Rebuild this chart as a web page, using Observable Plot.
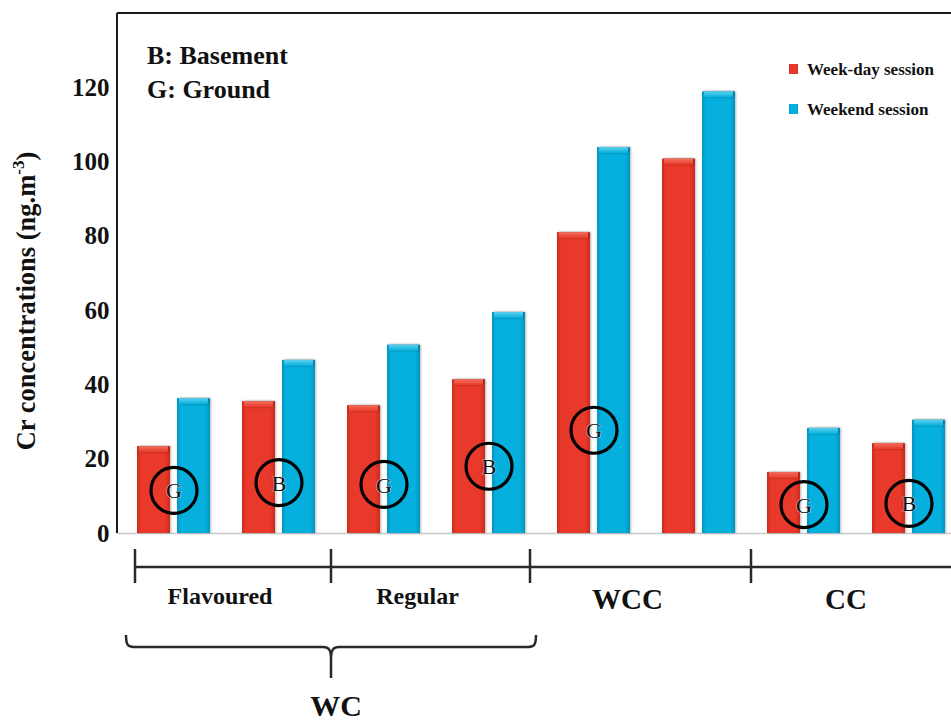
<!DOCTYPE html>
<html>
<head>
<meta charset="utf-8">
<script src="https://cdn.jsdelivr.net/npm/d3@7"></script>
<script src="https://cdn.jsdelivr.net/npm/@observablehq/plot@0.6"></script>
<style>
  html, body { margin: 0; padding: 0; background: #fff; }
  #chart svg { display: block; }
</style>
</head>
<body>
<div id="chart"></div>
<script>
// Sampling sites: venue type + floor (G = ground, B = basement)
const groups = ["Flavoured G", "Flavoured B", "Regular G", "Regular B", "WCC G", "WCC B", "CC G", "CC B"];
// Cr concentrations (ng.m-3)
const weekday = [23.4, 35.5, 34.4, 41.4, 81.0, 100.8, 16.4, 24.2];
const weekend = [36.3, 46.6, 50.7, 59.5, 103.9, 118.9, 28.3, 30.5];
// Circled floor letters and the height (in ng.m-3) where each sits
const floorLetter = ["G", "B", "G", "B", "G", "", "G", "B"];
const floorLetterY = [11.6, 13.7, 13.2, 18.1, 27.8, null, 7.8, 8.1];
const yTicks = [0, 20, 40, 60, 80, 100, 120];
const seriesNames = ["Week-day session", "Weekend session"];
const venueLabels = ["Flavoured", "Regular", "WCC", "CC"];
const parentLabel = "WC";

const rows = groups.map((g, i) => ({group: g, weekday: weekday[i], weekend: weekend[i]}));
const circled = groups.map((g, i) => ({group: g, letter: floorLetter[i], y: floorLetterY[i]}))
  .filter(d => d.letter);

const RED = "#e8392a", BLUE = "#05b0de";
const SERIF = "'Liberation Serif', 'Times New Roman', serif";
const barInset = 40; // leaves a 33px bar on each side of the pair

const plot = Plot.plot({
  width: 951,
  height: 722,
  marginLeft: 117,
  marginRight: 0,
  marginTop: 13,
  marginBottom: 189,
  style: {fontFamily: SERIF, background: "#fff", overflow: "visible"},
  x: {domain: groups, paddingInner: 0.309, paddingOuter: 0.1035, align: 0.76, axis: null},
  y: {domain: [0, 140], axis: null},
  marks: [
    Plot.axisY({ticks: yTicks, tickSize: 0, tickPadding: 8, fontSize: 25, fontWeight: "bold", label: null, fill: "#111"}),
    Plot.ruleY([0], {stroke: "#c8c8c8", strokeWidth: 1.5}),
    // week-day bars (left of each pair)
    Plot.barY(rows, {x: "group", y: "weekday", insetRight: barInset, fill: "url(#gradRed)"}),
    Plot.barY(rows, {x: "group", y1: "weekday", y2: "weekday", insetRight: barInset + 2, insetLeft: 2, insetBottom: -6, fill: "url(#capRed)"}),
    // weekend bars (right of each pair)
    Plot.barY(rows, {x: "group", y: "weekend", insetLeft: barInset, fill: "url(#gradBlue)"}),
    Plot.barY(rows, {x: "group", y1: "weekend", y2: "weekend", insetLeft: barInset + 2, insetRight: 2, insetBottom: -6, fill: "url(#capBlue)"}),
    // circled floor letters
    Plot.dot(circled, {x: "group", y: "y", r: 23, stroke: "#000", strokeWidth: 3.2, fill: "none"}),
    Plot.text(circled, {x: "group", y: "y", text: "letter", fontSize: 22, fontWeight: "normal", fill: "#111", stroke: "#fff", strokeWidth: 1.2, strokeOpacity: 0.5, paintOrder: "stroke", dy: 1})
  ]
});

document.getElementById("chart").appendChild(plot);

const svg = d3.select(plot);
const xs = plot.scale("x");
const ys = plot.scale("y");
const bw = xs.bandwidth;
const left = g => xs.apply(g);
const right = g => xs.apply(g) + bw;
const y0 = ys.apply(0);
const yTop = ys.apply(140);
const W = 951;

// Bar shading
const defs = svg.insert("defs", ":first-child");
function hGrad(id, edge, mid) {
  const g = defs.append("linearGradient").attr("id", id).attr("x1", 0).attr("x2", 1).attr("y1", 0).attr("y2", 0);
  g.append("stop").attr("offset", "0%").attr("stop-color", edge);
  g.append("stop").attr("offset", "12%").attr("stop-color", mid);
  g.append("stop").attr("offset", "85%").attr("stop-color", mid);
  g.append("stop").attr("offset", "100%").attr("stop-color", edge);
}
function vGrad(id, top, bottom) {
  const g = defs.append("linearGradient").attr("id", id).attr("x1", 0).attr("x2", 0).attr("y1", 0).attr("y2", 1);
  g.append("stop").attr("offset", "0%").attr("stop-color", top);
  g.append("stop").attr("offset", "100%").attr("stop-color", bottom);
}
hGrad("gradRed", "#c92b1f", RED);
hGrad("gradBlue", "#0393be", BLUE);
vGrad("capRed", "#f2705f", RED);
vGrad("capBlue", "#5fd0ee", BLUE);

svg.selectAll("g[aria-label='bar']").style("filter", "drop-shadow(1.5px 0.5px 1px rgba(0,0,0,0.28))");

// Frame: top border and y axis line
const ink = "#1a1a1a";
svg.append("line").attr("x1", 117).attr("x2", W).attr("y1", yTop).attr("y2", yTop)
  .attr("stroke", ink).attr("stroke-width", 2);
svg.append("line").attr("x1", 117).attr("x2", 117).attr("y1", yTop).attr("y2", y0)
  .attr("stroke", ink).attr("stroke-width", 2);

// Y axis title with superscript
const yt = svg.append("text")
  .attr("transform", `translate(35,${(yTop + y0) / 2 + 28}) rotate(-90)`)
  .attr("text-anchor", "middle")
  .attr("font-family", SERIF).attr("font-weight", "bold").attr("font-size", 26.5).attr("fill", "#111");
yt.append("tspan").text("Cr concentrations (ng.m");
yt.append("tspan").attr("dy", -11).attr("font-size", 17).text("-3");
yt.append("tspan").attr("dy", 11).text(")");

// Floor key
const key = svg.append("g").attr("text-anchor", "start").attr("font-family", SERIF).attr("font-weight", "bold").attr("font-size", 26).attr("fill", "#111");
key.append("text").attr("x", 147).attr("y", 64).text("B: Basement");
key.append("text").attr("x", 147).attr("y", 98).text("G: Ground");

// Series legend
const leg = svg.append("g").attr("text-anchor", "start").attr("font-family", SERIF).attr("font-weight", "bold").attr("font-size", 17).attr("fill", "#111");
[RED, BLUE].forEach((c, i) => {
  const yy = 64 + i * 40;
  leg.append("rect").attr("x", 789).attr("y", yy).attr("width", 9).attr("height", 10)
    .attr("fill", i ? "url(#gradBlue)" : "url(#gradRed)");
  leg.append("text").attr("x", 807).attr("y", yy + 11).text(seriesNames[i]);
});

// Venue bracket under the bars
const bracketY = 567;
const ticks = [
  left(groups[0]) - 2,
  (right(groups[1]) + left(groups[2])) / 2,
  left(groups[4]) - 27,
  (right(groups[5]) + left(groups[6])) / 2
];
const br = svg.append("g").attr("stroke", "#2a2a2a").attr("stroke-width", 2.5).attr("fill", "none");
br.append("line").attr("x1", ticks[0]).attr("x2", W).attr("y1", bracketY).attr("y2", bracketY);
ticks.forEach(t => br.append("line").attr("x1", t).attr("x2", t).attr("y1", bracketY - 18).attr("y2", bracketY + 16));

const segEnds = [...ticks, W];
const vl = svg.append("g").attr("font-family", SERIF).attr("font-weight", "bold").attr("fill", "#111").attr("text-anchor", "middle");
venueLabels.forEach((lab, i) => {
  const big = i >= 2;
  vl.append("text")
    .attr("x", (segEnds[i] + segEnds[i + 1]) / 2 - (i === 3 ? 5 : 13))
    .attr("y", big ? 609 : 604)
    .attr("font-size", big ? 29 : 24)
    .text(lab);
});

// Curly brace grouping the two WC venues
const bx0 = ticks[0] - 9, bx1 = ticks[2] + 6, bm = ticks[1];
const by0 = 635, by1 = 647, by2 = 678;
svg.append("path")
  .attr("d", `M${bx0},${by0} C${bx0},${by1 - 1} ${bx0 + 2},${by1} ${bx0 + 10},${by1} L${bm - 8},${by1} C${bm - 2},${by1} ${bm},${by1 + 3} ${bm},${by1 + 12} L${bm},${by2}
              M${bm},${by1 + 12} C${bm},${by1 + 3} ${bm + 2},${by1} ${bm + 8},${by1} L${bx1 - 10},${by1} C${bx1 - 2},${by1} ${bx1},${by1 - 1} ${bx1},${by0}`)
  .attr("stroke", "#2a2a2a").attr("stroke-width", 2.5).attr("fill", "none");
svg.append("text").attr("x", bm + 5).attr("y", 716).attr("text-anchor", "middle")
  .attr("font-family", SERIF).attr("font-weight", "bold").attr("font-size", 30).attr("fill", "#111")
  .text(parentLabel);
</script>
</body>
</html>
